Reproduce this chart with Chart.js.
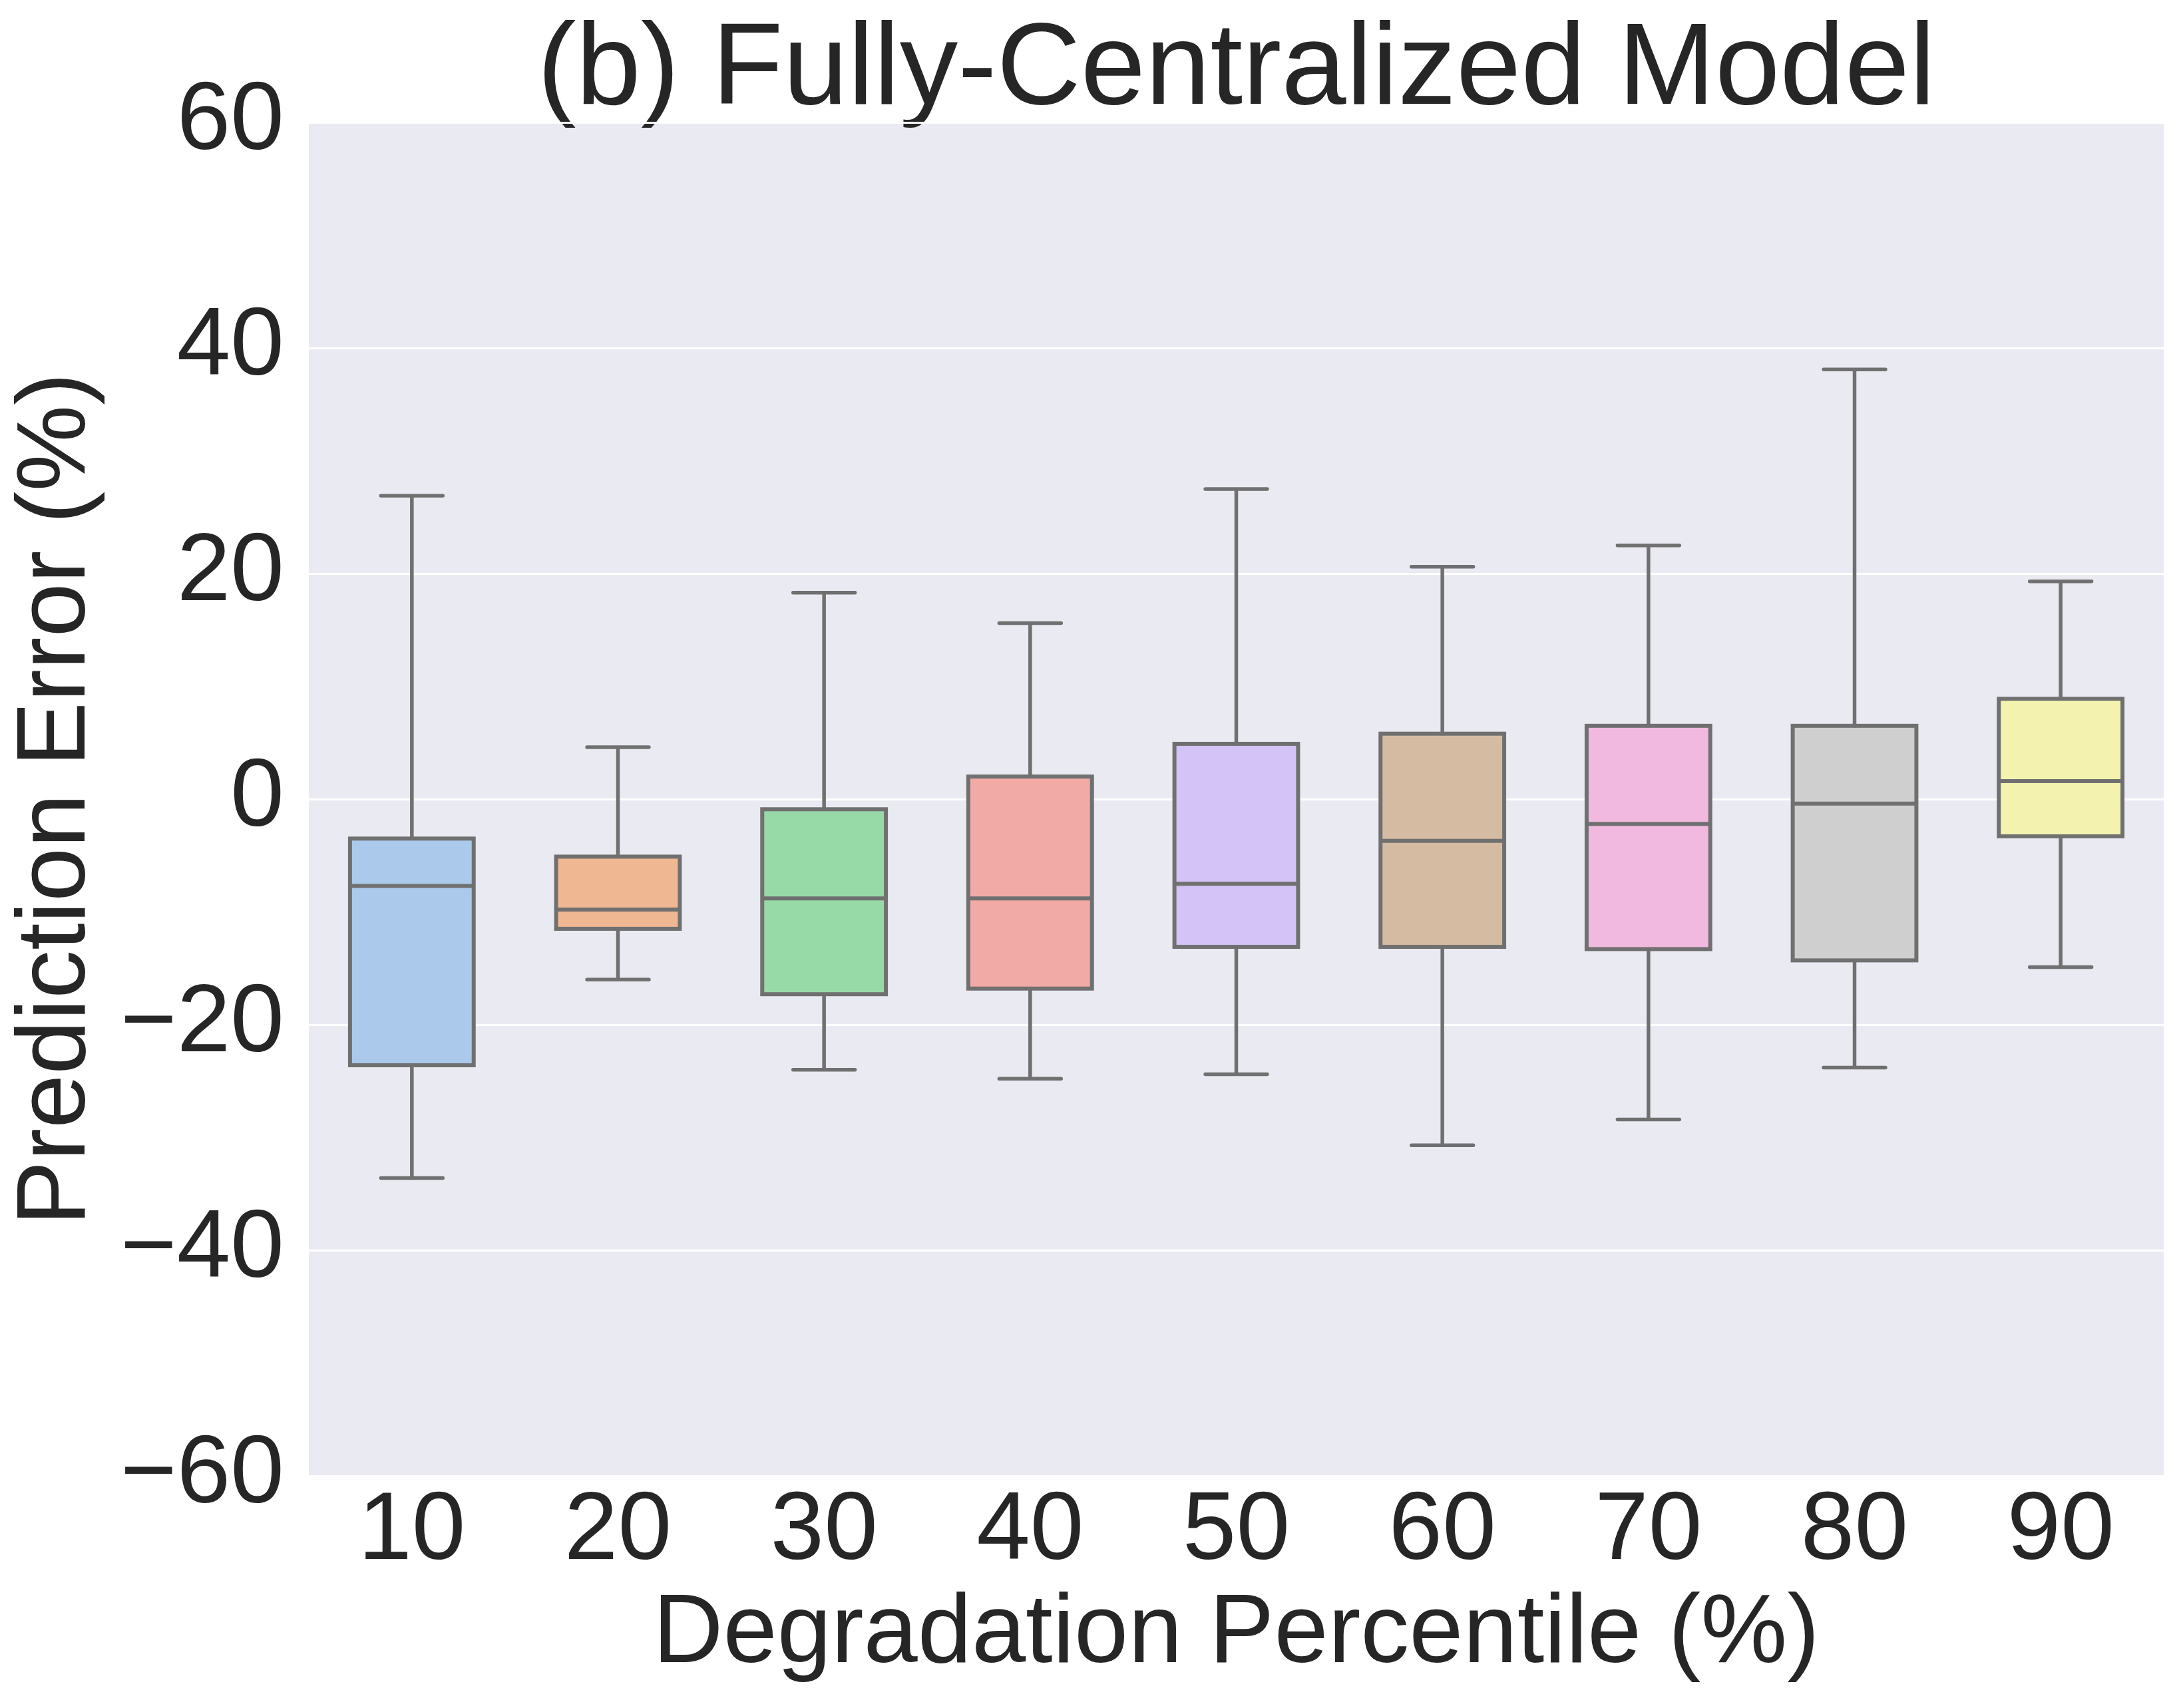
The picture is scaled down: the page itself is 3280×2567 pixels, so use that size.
<!DOCTYPE html>
<html lang="en">
<head>
    <meta charset="UTF-8">
    <title>Fully-Centralized Model</title>
    <script src="https://cdn.jsdelivr.net/npm/chart.js@4.4.1/dist/chart.umd.min.js"></script>
    <style>
        body { margin: 0; background: #ffffff; }
        #wrap { width: 3280px; height: 2567px; }
    </style>
</head>
<body>
<div id="wrap">
    <canvas id="boxCanvas" width="3280" height="2567"></canvas>
</div>

<script>
    // values
    const categories = ['10', '20', '30', '40', '50', '60', '70', '80', '90'];
    const whiskerLow  = [-33.6, -16.0, -24.0, -24.8, -24.4, -30.7, -28.4, -23.8, -14.9];
    const q1          = [-23.6, -11.5, -17.3, -16.8, -13.1, -13.1, -13.3, -14.3,  -3.3];
    const median      = [ -7.7,  -9.8,  -8.8,  -8.8,  -7.5,  -3.7,  -2.2,  -0.4,   1.6];
    const q3          = [ -3.5,  -5.1,  -0.9,   2.0,   4.9,   5.8,   6.5,   6.5,   8.9];
    const whiskerHigh = [ 26.9,   4.6,  18.3,  15.6,  27.5,  20.6,  22.5,  38.1,  19.3];
    const yTicks = [-60, -40, -20, 0, 20, 40, 60];

    const boxColors = ['#abc9ea', '#efb792', '#98daa7', '#f2aaa7', '#d3c3f6',
                       '#d6bba3', '#f1b9e0', '#cfcfcf', '#f3f3af'];
    const lineGray = '#707070';
    const textColor = '#262626';
    const fontName = 'Liberation Sans';

    // plot background
    const bgPlugin = {
        id: 'bg',
        beforeDraw(chart) {
            const a = chart.chartArea;
            const c = chart.ctx;
            c.save();
            c.fillStyle = '#eaeaf2';
            c.fillRect(a.left, a.top, a.right - a.left, a.bottom - a.top);
            c.restore();
        }
    };

    // box outlines, whiskers, caps and medians drawn from the scales
    const whiskerPlugin = {
        id: 'whiskers',
        afterDatasetsDraw(chart) {
            const c = chart.ctx;
            const xs = chart.scales.x;
            const ys = chart.scales.y;
            const meta = chart.getDatasetMeta(0);
            c.save();
            c.strokeStyle = lineGray;
            for (let i = 0; i < categories.length; i++) {
                const x = xs.getPixelForValue(i);
                const w = meta.data[i].width;
                const half = w / 4;
                const yHi = ys.getPixelForValue(whiskerHigh[i]);
                const yLo = ys.getPixelForValue(whiskerLow[i]);
                const y3 = ys.getPixelForValue(q3[i]);
                const y1 = ys.getPixelForValue(q1[i]);
                const ym = ys.getPixelForValue(median[i]);

                c.lineCap = 'round';
                c.lineWidth = 5.5;
                c.beginPath();
                c.moveTo(x, y3);
                c.lineTo(x, yHi);
                c.moveTo(x, y1);
                c.lineTo(x, yLo);
                c.moveTo(x - half, yHi);
                c.lineTo(x + half, yHi);
                c.moveTo(x - half, yLo);
                c.lineTo(x + half, yLo);
                c.stroke();

                c.lineCap = 'butt';
                c.lineJoin = 'miter';
                c.lineWidth = 6;
                c.strokeRect(x - w / 2, y3, w, y1 - y3);
                c.beginPath();
                c.moveTo(x - w / 2, ym);
                c.lineTo(x + w / 2, ym);
                c.stroke();
            }
            c.restore();
        }
    };

    const ctx = document.getElementById('boxCanvas').getContext('2d');
    const boxChart = new Chart(ctx, {
        type: 'bar',
        data: {
            labels: categories,
            datasets: [{
                xAxisID: 'x',
                yAxisID: 'y',
                data: categories.map((_, i) => [q1[i], q3[i]]),
                backgroundColor: boxColors,
                borderWidth: 0,
                barPercentage: 0.6,
                categoryPercentage: 1.0
            }]
        },
        options: {
            responsive: false,
            animation: false,
            devicePixelRatio: 1,
            layout: { padding: { left: 0, right: 29, top: 0, bottom: 0 } },
            plugins: {
                legend: { display: false },
                tooltip: { enabled: false }
            },
            scales: {
                x: {
                    position: 'bottom',
                    grid: { display: false, drawTicks: false },
                    border: { display: false },
                    ticks: {
                        color: textColor,
                        padding: 13,
                        font: { family: fontName, size: 145, lineHeight: 1 }
                    },
                    title: {
                        display: true,
                        text: 'Degradation Percentile (%)',
                        color: textColor,
                        font: { family: fontName, size: 146, lineHeight: 1 },
                        padding: { top: 0, bottom: 36 }
                    },
                    afterFit(s) { s.height = 349; }
                },
                // top axis only carries the title, centred over the plot
                xTop: {
                    type: 'category',
                    position: 'top',
                    grid: { display: false, drawTicks: false },
                    border: { display: false },
                    ticks: { display: false },
                    title: {
                        display: true,
                        text: '(b) Fully-Centralized Model',
                        color: textColor,
                        font: { family: fontName, size: 175, lineHeight: 1 },
                        padding: { top: 20, bottom: 0 }
                    },
                    afterFit(s) { s.height = 184; }
                },
                y: {
                    min: -60,
                    max: 60,
                    afterBuildTicks(s) { s.ticks = yTicks.map(v => ({ value: v })); },
                    grid: { color: '#ffffff', lineWidth: 3, drawTicks: false },
                    border: { display: false },
                    ticks: {
                        color: textColor,
                        padding: 37,
                        font: { family: fontName, size: 145 },
                        callback: v => (v < 0 ? '\u2212' + Math.abs(v) : String(v))
                    },
                    title: {
                        display: true,
                        text: 'Prediction Error (%)',
                        color: textColor,
                        font: { family: fontName, size: 146, lineHeight: 1 },
                        padding: { top: 14, bottom: 0 }
                    },
                    afterFit(s) { s.width = 464; }
                }
            }
        },
        plugins: [bgPlugin, whiskerPlugin]
    });
</script>
</body>
</html>
